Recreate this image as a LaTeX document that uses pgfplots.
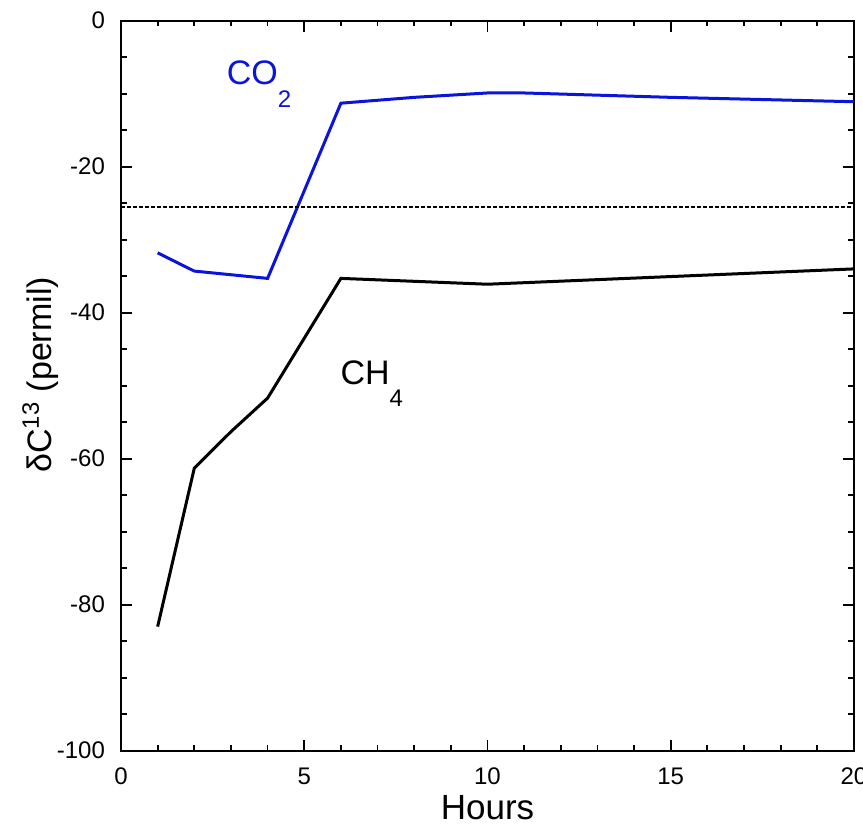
\documentclass[border=0pt]{standalone}
\usepackage{fontspec}
\setmainfont{Liberation Sans}
\usepackage{pgfplots}
\pgfplotsset{compat=1.18}
\definecolor{co2blue}{RGB}{10,20,220}
\begin{document}
\begin{tikzpicture}
\begin{axis}[
  at={(0,0)}, anchor=south west,
  scale only axis,
  width=366.5pt, height=365pt,
  xmin=0, xmax=20, ymin=-100, ymax=0,
  xtick={0,5,10,15,20},
  ytick={-100,-80,-60,-40,-20,0},
  minor x tick num=4,
  minor y tick num=3,
  tick align=inside,
  major tick length=5.5pt,
  minor tick length=2.8pt,
  every tick/.style={black, line width=0.9pt},
  axis line style={line width=1.1pt},
  ticklabel style={font=\fontsize{12}{14}\selectfont},
  xticklabel style={yshift=-5pt},
  yticklabel style={xshift=-4.5pt},
  /pgf/number format/assume math mode=true,
  xlabel={Hours},
  ylabel={δC\textsuperscript{13} (permil)},
  xlabel style={font=\fontsize{17.5}{20}\selectfont, at={(axis description cs:0.5,-0.078)}, anchor=center},
  ylabel style={font=\fontsize{17}{20}\selectfont, at={(axis description cs:-0.11,0.515)}, anchor=center, rotate=0},
  clip=false,
]
\addplot[co2blue, line width=1.5pt] coordinates {
  (1,-31.8) (2,-34.3) (3,-34.8) (4,-35.3) (6,-11.3) (8,-10.5) (10,-9.9) (11,-9.9) (15,-10.5) (20,-11.1)
};
\addplot[black, line width=1.5pt] coordinates {
  (1,-83.0) (2,-61.3) (3,-56.3) (4,-51.7) (6,-35.3) (10,-36.1) (20,-34.0)
};
\addplot[black, line width=1.1pt, dash pattern=on 2pt off 1pt] coordinates {
  (0,-25.5) (20,-25.5)
};
\node[anchor=base west, inner sep=0pt, text=co2blue, font=\fontsize{17}{20}\selectfont] at (axis cs:2.88,-8.8) {CO\raisebox{-11.5pt}{\fontsize{12}{14}\selectfont 2}};
\node[anchor=base west, inner sep=0pt, font=\fontsize{17}{20}\selectfont] at (axis cs:5.98,-49.9) {CH\raisebox{-10.8pt}{\fontsize{12}{14}\selectfont 4}};
\end{axis}
\pgfresetboundingbox
\path[use as bounding box] (-60.5pt,-40.15pt) rectangle (371pt,375.35pt);
\end{tikzpicture}
\end{document}
